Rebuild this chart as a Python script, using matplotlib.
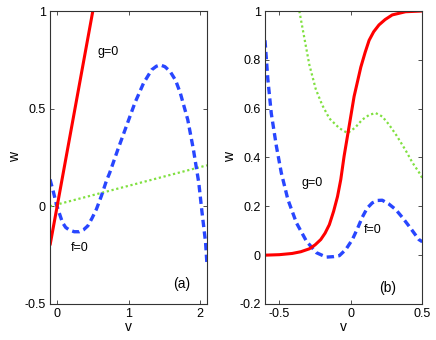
import matplotlib
matplotlib.use("Agg")
import matplotlib.pyplot as plt

plt.rcParams['font.family'] = ['Liberation Sans', 'DejaVu Sans']

# ---- panel (a) ----
a_g_v = [-0.1, 0.5]
a_g_w = [-0.2, 1.0]
a_h_v = [-0.1, 2.1]
a_h_w = [0.0, 0.21]
a_f_v = [-0.10, -0.05, -0.01, 0.035, 0.075, 0.12, 0.17, 0.24, 0.31, 0.37, 0.43,
         0.49, 0.55, 0.62, 0.69, 0.735, 0.85, 0.97, 1.09, 1.21, 1.325, 1.39,
         1.443, 1.51, 1.584, 1.66, 1.726, 1.83, 1.91, 1.985, 2.03, 2.08, 2.10]
a_f_w = [0.138, 0.07, 0.01, -0.04, -0.083, -0.108, -0.121, -0.13, -0.13, -0.12, -0.10,
         -0.06, -0.015, 0.053, 0.13, 0.17, 0.29, 0.41, 0.53, 0.63, 0.699, 0.717,
         0.724, 0.715, 0.69, 0.645, 0.58, 0.444, 0.29, 0.12, -0.03, -0.185, -0.30]

# ---- panel (b) ----
b_g_v = [-0.6, -0.5, -0.41, -0.35, -0.29, -0.25, -0.21, -0.18, -0.15, -0.12,
         -0.093, -0.07, -0.047, -0.012, 0.023, 0.07, 0.1, 0.128, 0.16, 0.197,
         0.24, 0.29, 0.383, 0.5]
b_g_w = [0.0, 0.002, 0.007, 0.014, 0.026, 0.042, 0.064, 0.09, 0.125, 0.18,
         0.24, 0.31, 0.405, 0.527, 0.65, 0.77, 0.83, 0.88, 0.915, 0.943,
         0.965, 0.984, 0.997, 1.0]
b_h_v = [-0.36, -0.325, -0.29, -0.245, -0.2, -0.15, -0.08, -0.023, 0.03, 0.08,
         0.13, 0.174, 0.22, 0.267, 0.32, 0.383, 0.43, 0.476, 0.5]
b_h_w = [1.0, 0.89, 0.78, 0.68, 0.615, 0.56, 0.52, 0.50, 0.522, 0.555,
         0.575, 0.582, 0.568, 0.535, 0.49, 0.43, 0.38, 0.34, 0.316]
b_f_v = [-0.6, -0.58, -0.556, -0.52, -0.486, -0.44, -0.38, -0.31, -0.24,
         -0.172, -0.12, -0.08, -0.035, 0.011, 0.049, 0.08, 0.115, 0.15, 0.185,
         0.22, 0.265, 0.314, 0.36, 0.407, 0.476, 0.5]
b_f_w = [0.88, 0.72, 0.58, 0.445, 0.337, 0.228, 0.132, 0.057, 0.01,
         -0.008, -0.006, -0.002, 0.023, 0.064, 0.112, 0.155, 0.193, 0.214, 0.224,
         0.225, 0.21, 0.187, 0.155, 0.119, 0.064, 0.055]

red = '#ff0000'
blue = '#2846ff'
green = '#80e040'

fig = plt.figure(figsize=(4.36, 3.40), dpi=100)
ax1 = fig.add_axes([50/436, 36/340, 157/436, 293/340])
ax2 = fig.add_axes([265/436, 36/340, 157.3/436, 293/340])

def style(ax):
    ax.tick_params(direction='in', top=True, right=True, labelsize=9, length=3,
                   width=0.6, pad=3, colors='#333333', labelcolor='black')
    for s in ax.spines.values():
        s.set_linewidth(0.8)
        s.set_color('#333333')

ax1.plot(a_h_v, a_h_w, color=green, lw=1.6, linestyle=(0, (1, 1.2)))
ax1.plot(a_f_v, a_f_w, color=blue, lw=2.4, linestyle=(0, (2.2, 1.3)))
ax1.plot(a_g_v, a_g_w, color=red, lw=2.2, solid_capstyle='butt')
ax1.set_xlim(-0.1, 2.1)
ax1.set_ylim(-0.5, 1.0)
ax1.set_xticks([0, 1, 2])
ax1.set_yticks([-0.5, 0, 0.5, 1])
ax1.set_yticklabels(['-0.5', '0', '0.5', '1'])
ax1.set_xlabel('v', fontsize=10, labelpad=0)
ax1.set_ylabel('w', fontsize=10, labelpad=2)
ax1.text(0.71, 0.79, 'g=0', fontsize=9, ha='center', va='center')
ax1.text(0.31, -0.215, 'f=0', fontsize=9, ha='center', va='center')
ax1.text(1.74, -0.40, '(a)', fontsize=10, ha='center', va='center')
style(ax1)

ax2.plot(b_h_v, b_h_w, color=green, lw=1.6, linestyle=(0, (1, 1.2)))
ax2.plot(b_f_v, b_f_w, color=blue, lw=2.4, linestyle=(0, (2.2, 1.3)))
ax2.plot(b_g_v, b_g_w, color=red, lw=2.2)
ax2.set_xlim(-0.6, 0.5)
ax2.set_ylim(-0.2, 1.0)
ax2.set_xticks([-0.5, 0, 0.5])
ax2.set_xticklabels(['-0.5', '0', '0.5'])
ax2.set_yticks([-0.2, 0, 0.2, 0.4, 0.6, 0.8, 1])
ax2.set_yticklabels(['-0.2', '0', '0.2', '0.4', '0.6', '0.8', '1'])
ax2.set_xlabel('v', fontsize=10, labelpad=0)
ax2.set_ylabel('w', fontsize=10, labelpad=2)
ax2.text(-0.27, 0.296, 'g=0', fontsize=9, ha='center', va='center')
ax2.text(0.15, 0.105, 'f=0', fontsize=9, ha='center', va='center')
ax2.text(0.255, -0.133, '(b)', fontsize=10, ha='center', va='center')
style(ax2)

fig.savefig('out.png', dpi=100)
